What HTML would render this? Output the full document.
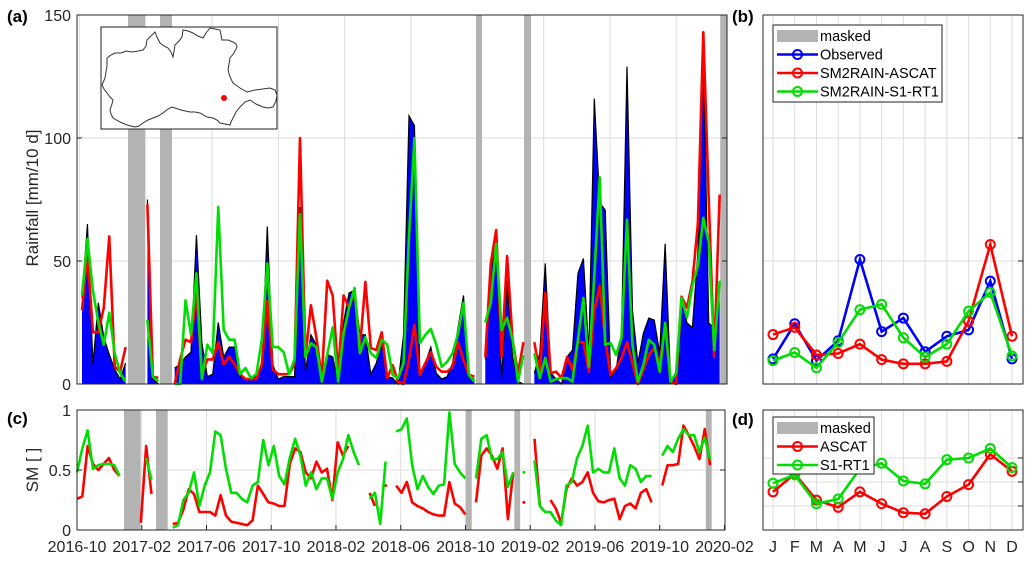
<!DOCTYPE html>
<html><head><meta charset="utf-8"><style>
html,body{margin:0;padding:0;background:#fff;}
svg{display:block;font-family:"Liberation Sans",sans-serif;}
</style></head><body>
<svg id="fig" width="1032" height="561" viewBox="0 0 1032 561" xmlns="http://www.w3.org/2000/svg">
<g id="ga"></g>
<g id="gb"></g>
<g id="gc"></g>
<g id="gd"></g>
</svg>
<script>
// ---------- data: panel (a) rainfall per dekad (index 0..117) ----------
const N = null;
const obsRain = [35,65,8,33,19,12,6,2,8.5,N,N,N,75,2,0,N,N,6.5,8,11,13,60.5,16.6,3,4,25,11,15,15,3,2,2,3,7,64,8,2,3,3,3,72,5,20,16,0.5,12,11,0.5,25,37,38,20,20,4,8.5,17,3,2.4,0,20,109,105,3,8.5,15,4.4,2,3,8.5,23,36,3,2,N,10,46,57,2,42,11,1,0,N,4.4,12.5,49,4.4,2,0,11,13.8,45,51,12.5,116,73.6,70.7,3,5.7,20.6,129,30,8.5,20.6,26.8,26,12.5,57,1,4.4,35.5,24.8,23,53,136,24.8,22.7,40];
const ascatRain = [30,53,21,21,31,60,7,5,15,N,N,N,73,3,2.5,N,N,0,10,18,17,37,4,10,10,17,8,11,8,4,2,2,2,8,34,6,4,4,4,8,100,11,32,19,2.4,42,36,4.4,36,31,38,14.6,41.5,14.6,13.8,21,2.4,7.7,0.8,0,9.8,24,3.7,8.5,13,7,5,5,7,17,9.8,3.7,3,N,11,49,62.6,11,52,18,4.4,17,N,17,4.4,37,4.4,5,2.4,11,5.7,17,17,5,30,40,18,3.7,6.5,10.6,17,8.5,0,5.7,11.8,14.6,8.5,23,1,0,35.5,31,41.5,65,143,75,11,77];
const s1Rain = [36,59,38,25,16,29,12.5,4.4,1,N,N,N,26,3,1,N,N,0,0,34,20,45,2,16,12.5,72,22,18,18,4,6.5,2.4,4,18,49,15,15,13,4,10,69,11,16.6,15,1,12,23,1,20.6,31,39,12.5,19,12.5,10.6,18,16,3.7,2.4,8.5,60,100,16.6,20,22.4,16,7,9,12.5,20.6,33,3.7,1,N,25,33,57,22,27,18,1,11.8,N,12.5,2.4,10.6,1,2,2.4,2.4,1,18,35,7,44,84,16,16.6,11.8,19,66.7,16,1,7.7,18,16,5,24.8,1,4.4,35,27,40,48,67.5,57.7,13.8,42];
const maskA = [[8.44,11.56],[14.31,16.51],[72.3,73.4],[81.1,82.4],[117.1,118.6]];
const rainTicks = [0,50,100,150];
const dateTickLabels = ["2016-10","2017-02","2017-06","2017-10","2018-02","2018-06","2018-10","2019-02","2019-06","2019-10","2020-02"];

// ---------- data: panel (c) soil moisture per dekad (index 0..121) ----------
const ascatSM = [.26,.28,.7,.55,.5,.55,.6,.5,.45,N,N,N,.06,.7,.3,N,N,N,.05,.06,.17,.34,.3,.15,.15,.15,.12,.29,.12,.07,.06,.05,.04,.08,.37,.3,.23,.22,.2,.2,.55,.68,.65,.48,.43,.57,.48,.51,.25,.73,.62,.7,N,N,N,.31,.2,N,.37,N,.37,.31,.4,.23,.2,.18,.15,.13,.12,.12,.4,.22,.19,.13,N,.23,.62,.68,.62,.51,.68,.09,.48,N,.23,N,.76,.2,N,.25,.18,.06,.34,.43,.37,.4,.48,.31,.24,.23,.25,.26,.09,.2,.22,.18,.31,.34,.23,N,.37,.54,.54,.55,.87,.79,.7,.59,.84,.54,N,N];
const s1SM = [.48,.68,.83,.51,.54,.55,.55,.54,.45,N,N,N,N,.6,.42,N,N,N,.02,.04,.25,.31,.48,.2,.37,.48,.82,.79,.51,.31,.31,.26,.23,.37,.4,.75,.54,.7,.45,.38,.6,.76,.62,.37,.48,.34,.43,.43,.26,.48,.59,.79,.65,.54,N,.26,.31,.05,.57,N,.82,.84,.93,.54,.34,.45,.36,.3,.37,.38,.98,.55,.48,.43,N,.43,.76,.79,.59,.59,.65,.36,.48,N,.48,N,.58,.2,.15,.15,.08,.04,.37,.4,.6,.7,.87,.48,.51,.48,.48,.68,.43,.37,.54,.51,.4,.45,.45,N,.62,.7,.65,.76,.84,.79,.79,.65,.77,.59,N,N];
const maskC = [[8.83,11.97],[14.85,17.05],[73.1,74.2],[82.2,83.3],[118.2,119.3]];
const smTicks = [0,0.5,1];
const smTickLabels = ["0","0.5","1"];

// ---------- data: panel (b) monthly rainfall ----------
const months = ["J","F","M","A","M","J","J","A","S","O","N","D"];
const obsMonthly = [10.2,24.5,9.5,17.6,50.6,21.3,26.8,13.1,19.4,22.0,41.8,10.2];
const ascatMonthly = [20.1,23.0,11.8,12.4,16.2,9.9,8.2,8.2,9.2,25.5,56.7,19.4];
const s1Monthly = [9.5,12.8,6.6,16.9,30.2,32.4,18.8,10.9,16.2,29.6,37.2,11.4];
const bGrid = [50,100];

// ---------- data: panel (d) monthly soil moisture ----------
const ascatSMMonthly = [.318,.468,.249,.189,.318,.219,.144,.135,.279,.378,.631,.489];
const s1SMMonthly = [.39,.459,.219,.258,.51,.556,.408,.384,.586,.6,.679,.52];
const dGrid = [0.2,0.4,0.6];

// ---------- helpers ----------
const NS = "http://www.w3.org/2000/svg";
function el(tag, attrs, parent, text){
  const e = document.createElementNS(NS, tag);
  for (const k in attrs) e.setAttribute(k, attrs[k]);
  if (text !== undefined) e.textContent = text;
  parent.appendChild(e);
  return e;
}
const RED = "#ff0000", GREEN = "#00dd00", BLUE = "#0000ff", GRID = "#dcdcdc", MASK = "#b3b3b3";

const aL = 77, aR = 727, aT = 15, aB = 384;
const xa = d => 82 + 5.45 * d;
const ya = v => aB - (v / 150) * (aB - aT);
const cL = 77, cR = 725, cT = 410, cB = 530;
const xc = d => 77 + 5.32 * d;
const yc = v => cB - v * (cB - cT);
const bL = 763, bR = 1023;
const xm = i => 773 + 21.73 * i;
const yb = v => aB - (v / 150) * (aB - aT);
const yd = v => cB - v * (cB - cT);

function segments(arr){
  const segs = []; let cur = [];
  arr.forEach((v,i)=>{ if (v === null){ if (cur.length) segs.push(cur); cur = []; } else cur.push([i,v]); });
  if (cur.length) segs.push(cur);
  return segs;
}
function drawLine(g, arr, xs, ys, color, name){
  segments(arr).forEach(seg=>{
    if (seg.length === 1){
      const c = el("circle",{cx:xs(seg[0][0]),cy:ys(seg[0][1]),r:1.5,fill:color},g);
      
      
      return;
    }
    const p = el("polyline",{points:seg.map(([i,v])=>xs(i)+","+ys(v)).join(" "),fill:"none",stroke:color,"stroke-width":2.6,"stroke-linejoin":"round"},g);
    
    
  });
}

// ================= Panel (a) =================
const ga = document.getElementById("ga");
el("rect",{x:aL,y:aT,width:aR-aL,height:aB-aT,fill:"#fff"},ga);
for (let k=0;k<=10;k++){
  const d = -0.48 + 12.17*k, x = xa(d);
  if (x > aL && x < aR){
    const l = el("line",{x1:x,x2:x,y1:aT,y2:aB,stroke:GRID,"stroke-width":1},ga);
    
    
  }
}
rainTicks.forEach(v=>{
  if (v>0 && v<150){
    const l = el("line",{x1:aL,x2:aR,y1:ya(v),y2:ya(v),stroke:GRID,"stroke-width":1},ga);
    
    
  }
});
maskA.forEach(m=>{
  const x1 = Math.max(aL, xa(m[0])), x2 = Math.min(aR, xa(m[1]));
  const r = el("rect",{x:x1,y:aT,width:x2-x1,height:aB-aT,fill:MASK},ga);
  
  
});
segments(obsRain).forEach(seg=>{
  const pts = seg.map(([i,v])=>xa(i)+","+ya(v));
  const poly = el("polygon",{points:xa(seg[0][0])+","+ya(0)+" "+pts.join(" ")+" "+xa(seg[seg.length-1][0])+","+ya(0),fill:BLUE,stroke:"none"},ga);
  
  
  const ln = el("polyline",{points:pts.join(" "),fill:"none",stroke:"#000","stroke-width":1.2},ga);
  
  
});
drawLine(ga, ascatRain, xa, ya, RED, "sm2rain-ascat-line");
drawLine(ga, s1Rain, xa, ya, GREEN, "sm2rain-s1-rt1-line");
el("rect",{x:aL,y:aT,width:aR-aL,height:aB-aT,fill:"none",stroke:"#262626","stroke-width":1},ga);
rainTicks.forEach(v=>{
  el("line",{x1:aL,x2:aL+5,y1:ya(v),y2:ya(v),stroke:"#262626"},ga);
  el("line",{x1:aR-5,x2:aR,y1:ya(v),y2:ya(v),stroke:"#262626"},ga);
  const t = el("text",{x:aL-6,y:ya(v)+6,"text-anchor":"end","font-size":16,fill:"#262626"},ga,String(v));
  
  
});
const inset = el("g",{},ga);


el("rect",{x:101,y:27,width:176,height:102,fill:"#fff",stroke:"#222","stroke-width":1},inset);
const outline = el("polygon",{points:"102,85 105,78 107,66 107,58 111,55 115,53 121,53 126,51 132,52 138,51 143,50 146,46 147,40 151,36 155,32 157,37 160,43 164,46 168,48 171,52 173,57 174,51 175,45 179,41 182,37 183,30 188,31 193,33 198,36 203,38 206,33 210,28 215,29 220,30 221,35 222,40 228,40 233,42 236,44 237,47 234,53 230,58 229,64 228,70 230,77 233,83 240,88 247,92 255,90 263,89 270,88 275,90 277,95 276,101 273,107 268,108 263,107 256,104 250,100 245,102 240,107 236,112 233,118 231,122 230,125 225,124 220,123 217,120 213,118 207,117 200,113 195,112 190,112 181,110 172,107 168,109 163,113 158,116 153,118 148,120 143,123 139,126 135,127 131,126 127,125 120,122 113,118 111,114 110,110 112,104 113,100 110,97 107,93 104,89",fill:"none",stroke:"#333","stroke-width":1},inset);


const site = el("circle",{cx:224,cy:98,r:3,fill:RED},inset);


let t;
t = el("text",{x:7,y:22,"font-size":17,"font-weight":"bold",fill:"#000"},ga,"(a)");
 
t = el("text",{x:0,y:0,"font-size":17,fill:"#262626","text-anchor":"middle",transform:"translate(38,198) rotate(-90)"},ga,"Rainfall [mm/10 d]");
 

// ================= Panel (c) =================
const gc = document.getElementById("gc");
for (let k=1;k<10;k++){
  const x = xc(12.17*k);
  const l = el("line",{x1:x,x2:x,y1:cT,y2:cB,stroke:GRID},gc);
   
}
el("line",{x1:cL,x2:cR,y1:yc(0.5),y2:yc(0.5),stroke:GRID},gc);
maskC.forEach(m=>{
  const x1 = xc(m[0]), x2 = xc(m[1]);
  const r = el("rect",{x:x1,y:cT,width:x2-x1,height:cB-cT,fill:MASK},gc);
   
});
drawLine(gc, ascatSM, xc, yc, RED, "ascat-sm-line");
drawLine(gc, s1SM, xc, yc, GREEN, "s1-rt1-sm-line");
el("rect",{x:cL,y:cT,width:cR-cL,height:cB-cT,fill:"none",stroke:"#262626"},gc);
smTicks.forEach((v,i)=>{
  el("line",{x1:cL,x2:cL+5,y1:yc(v),y2:yc(v),stroke:"#262626"},gc);
  el("line",{x1:cR-5,x2:cR,y1:yc(v),y2:yc(v),stroke:"#262626"},gc);
  t = el("text",{x:cL-6,y:yc(v)+6,"text-anchor":"end","font-size":16,fill:"#262626"},gc,smTickLabels[i]);
   
});
dateTickLabels.forEach((lab,k)=>{
  const x = xc(12.17*k);
  el("line",{x1:x,x2:x,y1:cB,y2:cB-5,stroke:"#262626"},gc);
  t = el("text",{x:x,y:552,"text-anchor":"middle","font-size":16,fill:"#262626"},gc,lab);
   
});
t = el("text",{x:7,y:424,"font-size":17,"font-weight":"bold",fill:"#000"},gc,"(c)");
 
t = el("text",{x:0,y:0,"font-size":17,fill:"#262626","text-anchor":"middle",transform:"translate(38,470) rotate(-90)"},gc,"SM [ ]");
 

// ================= Panel (b) / (d) =================
function monthlyLine(g, arr, ys, color, name){
  const p = el("polyline",{points:arr.map((v,i)=>xm(i)+","+ys(v)).join(" "),fill:"none",stroke:color,"stroke-width":2.6},g);
   
  arr.forEach((v,i)=>{
    const c = el("circle",{cx:xm(i),cy:ys(v),r:4.5,fill:"none",stroke:color,"stroke-width":2},g);
     
  });
}
function legend(g, x, y, w, h, entries){
  const lg = el("g",{},g);
   
  el("rect",{x:x,y:y,width:w,height:h,fill:"#fff",stroke:"#222"},lg);
  entries.forEach((e,k)=>{
    const cy = y + 11 + k*18.5;
    if (e.mask){ el("rect",{x:x+4,y:cy-6,width:41,height:12,fill:MASK},lg); }
    else {
      el("line",{x1:x+4,x2:x+45,y1:cy,y2:cy,stroke:e.color,"stroke-width":2.6},lg);
      el("circle",{cx:x+24.5,cy:cy,r:4.5,fill:"none",stroke:e.color,"stroke-width":2},lg);
    }
    const tt = el("text",{x:x+47,y:cy+5,"font-size":14.5,fill:"#000"},lg,e.label);
     
  });
}
const gb = document.getElementById("gb");
months.forEach((m,i)=>{ el("line",{x1:xm(i),x2:xm(i),y1:aT,y2:aB,stroke:GRID},gb); });
bGrid.forEach(v=>{
  el("line",{x1:bL,x2:bR,y1:yb(v),y2:yb(v),stroke:GRID},gb);
  el("line",{x1:bR-5,x2:bR,y1:yb(v),y2:yb(v),stroke:"#262626"},gb);
});
monthlyLine(gb, obsMonthly, yb, BLUE, "observed-monthly-line");
monthlyLine(gb, ascatMonthly, yb, RED, "sm2rain-ascat-monthly-line");
monthlyLine(gb, s1Monthly, yb, GREEN, "sm2rain-s1-rt1-monthly-line");
el("rect",{x:bL,y:aT,width:bR-bL,height:aB-aT,fill:"none",stroke:"#262626"},gb);
legend(gb, 773, 25, 169, 77, [{mask:true,label:"masked"},{color:BLUE,label:"Observed"},{color:RED,label:"SM2RAIN-ASCAT"},{color:GREEN,label:"SM2RAIN-S1-RT1"}]);
t = el("text",{x:732,y:22,"font-size":17,"font-weight":"bold",fill:"#000"},gb,"(b)");
 

const gd = document.getElementById("gd");
months.forEach((m,i)=>{
  el("line",{x1:xm(i),x2:xm(i),y1:cT,y2:cB,stroke:GRID},gd);
  const tt = el("text",{x:xm(i),y:552,"text-anchor":"middle","font-size":16,fill:"#262626"},gd,m);
   
});
dGrid.forEach(v=>{
  el("line",{x1:bL,x2:bR,y1:yd(v),y2:yd(v),stroke:GRID},gd);
  el("line",{x1:bR-5,x2:bR,y1:yd(v),y2:yd(v),stroke:"#262626"},gd);
});
monthlyLine(gd, ascatSMMonthly, yd, RED, "ascat-monthly-sm-line");
monthlyLine(gd, s1SMMonthly, yd, GREEN, "s1-rt1-monthly-sm-line");
el("rect",{x:bL,y:cT,width:bR-bL,height:cB-cT,fill:"none",stroke:"#262626"},gd);
legend(gd, 773, 417, 101, 57, [{mask:true,label:"masked"},{color:RED,label:"ASCAT"},{color:GREEN,label:"S1-RT1"}]);
t = el("text",{x:732,y:425,"font-size":17,"font-weight":"bold",fill:"#000"},gd,"(d)");
 
</script>
</body></html>
